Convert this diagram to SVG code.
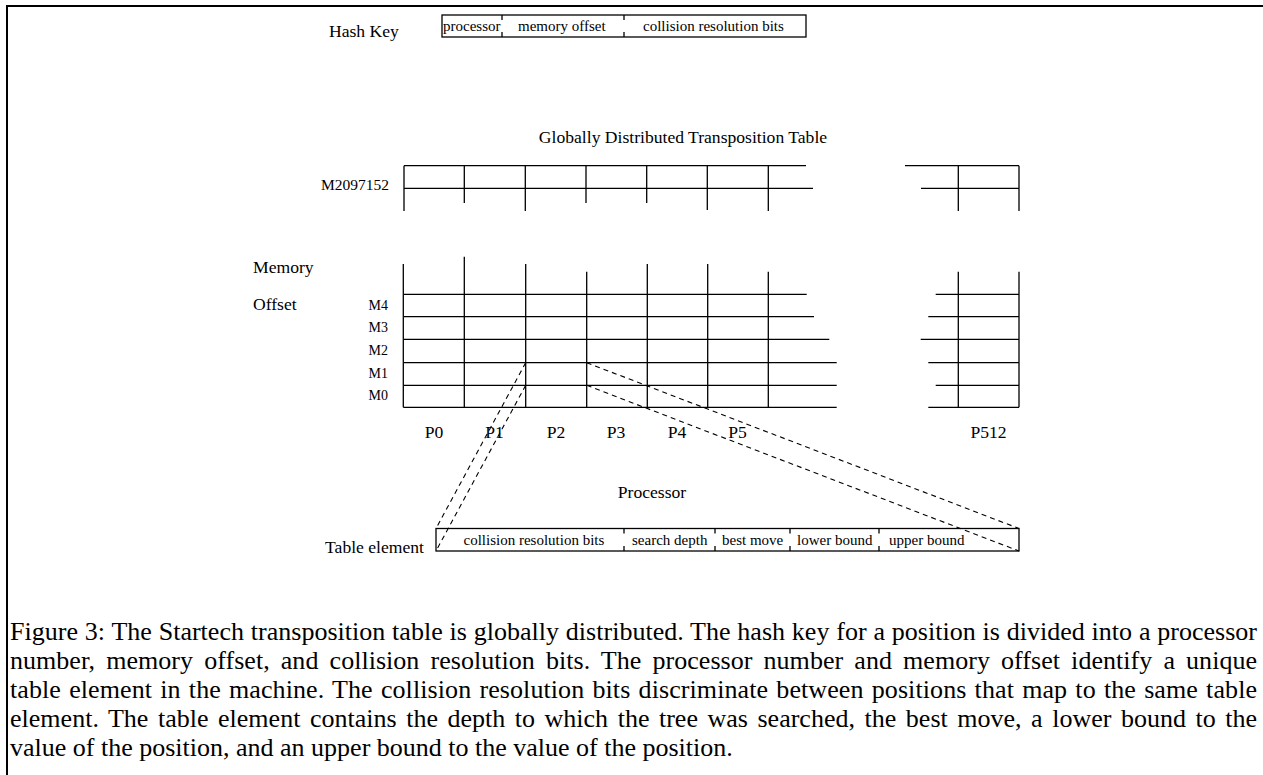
<svg xmlns="http://www.w3.org/2000/svg" width="1263" height="775" viewBox="0 0 1263 775">
<style>
text{font-family:"Liberation Serif","Times New Roman",serif;fill:#000}
.big{font-size:17.6px}
.sm{font-size:15px}
.ml{font-size:14px}
.cap{font-size:26px}
.ln{stroke:#000;stroke-width:1.3;fill:none}
.dash{stroke:#000;stroke-width:1.1;fill:none;stroke-dasharray:5 4}
</style>
<rect width="1263" height="775" fill="#fff"/>
<path d="M7,775 V6 H1263" fill="none" stroke="#000" stroke-width="2"/>

<g id="hash-key">
<text class="big" x="329" y="37">Hash Key</text>
<rect class="ln" x="442" y="15" width="364" height="22"/>
<path class="ln" d="M502,15v5M502,37v-5M624,15v5M624,37v-5"/>
<text class="sm" x="443" y="31">processor</text>
<text class="sm" x="518" y="31">memory offset</text>
<text class="sm" x="643" y="31">collision resolution bits</text>
</g>

<g id="table-title">
<text class="big" x="683" y="143" text-anchor="middle">Globally Distributed Transposition Table</text>
</g>

<g id="row-m2097152">
<text style="font-size:15.5px" x="389" y="190" text-anchor="end">M2097152</text>
<path class="ln" d="M404,165.7H806M905,165.7H1019M404,188.3H813M921,188.3H1019
M404,165.7V211M464.3,165.7V203M525.3,165.7V211M586,165.7V203M646.7,165.7V203M707.3,165.7V210M768.3,165.7V211M958.3,165.7V211M1019,165.7V211"/>
</g>

<g id="memory-table">
<text class="big" x="253" y="273">Memory</text>
<text class="big" x="253" y="310">Offset</text>
<text class="ml" x="388" y="309.5" text-anchor="end">M4</text>
<text class="ml" x="388" y="332" text-anchor="end">M3</text>
<text class="ml" x="388" y="354.5" text-anchor="end">M2</text>
<text class="ml" x="388" y="377.5" text-anchor="end">M1</text>
<text class="ml" x="388" y="400" text-anchor="end">M0</text>
<path class="ln" d="M404,294.3H806.7M935.7,294.3H1019
M404,316.7H814M928.3,316.7H1019
M404,339.3H829.3M920.7,339.3H1019
M404,362.7H836.7M928.3,362.7H1019
M404,385.3H836.7M935.7,385.3H1019
M403.3,407.3H836.7M928.3,407.3H1019
M403.3,264V407.3M464.3,256.7V407.3M525.7,264V407.3M586.7,271.7V407.3M647.3,264V407.3M707.7,264V407.3M768.3,271.7V407.3M958.3,271.7V407.3M1019,271.7V407.3"/>
<text class="big" x="434" y="437.7" text-anchor="middle">P0</text>
<text class="big" x="494.5" y="437.7" text-anchor="middle">P1</text>
<text class="big" x="556" y="437.7" text-anchor="middle">P2</text>
<text class="big" x="616" y="437.7" text-anchor="middle">P3</text>
<text class="big" x="677" y="437.7" text-anchor="middle">P4</text>
<text class="big" x="737.5" y="437.7" text-anchor="middle">P5</text>
<text class="big" x="988.5" y="437.7" text-anchor="middle">P512</text>
<text class="big" x="652" y="498" text-anchor="middle">Processor</text>
</g>

<g id="table-element">
<text class="big" x="424" y="553" text-anchor="end">Table element</text>
<rect class="ln" x="436" y="528.5" width="583" height="22.5"/>
<path class="ln" d="M624,528.5v5M624,551v-5M715,528.5v5M715,551v-5M790,528.5v5M790,551v-5M879,528.5v5M879,551v-5"/>
<text class="sm" x="463.5" y="545">collision resolution bits</text>
<text class="sm" x="632" y="545">search depth</text>
<text class="sm" x="722" y="545">best move</text>
<text class="sm" x="797" y="545">lower bound</text>
<text class="sm" x="889" y="545">upper bound</text>
</g>

<g id="connectors">
<path class="dash" d="M525.7,362.7L436,528.5"/>
<path class="dash" d="M525.7,385.3L436,551"/>
<path class="dash" d="M586.7,362.7L1019,528.5"/>
<path class="dash" d="M586.7,385.3L1019,551"/>
</g>

<g id="caption">
<text class="cap" x="10" y="640" word-spacing="0.3" textLength="1247" lengthAdjust="spacing">Figure 3: The Startech transposition table is globally distributed. The hash key for a position is divided into a processor</text>
<text class="cap" x="10" y="669" word-spacing="4.6" textLength="1247" lengthAdjust="spacing">number, memory offset, and collision resolution bits. The processor number and memory offset identify a unique</text>
<text class="cap" x="10" y="698" word-spacing="1.6" textLength="1247" lengthAdjust="spacing">table element in the machine. The collision resolution bits discriminate between positions that map to the same table</text>
<text class="cap" x="10" y="727" word-spacing="3" textLength="1247" lengthAdjust="spacing">element. The table element contains the depth to which the tree was searched, the best move, a lower bound to the</text>
<text class="cap" x="10" y="756">value of the position, and an upper bound to the value of the position.</text>
</g>
</svg>
